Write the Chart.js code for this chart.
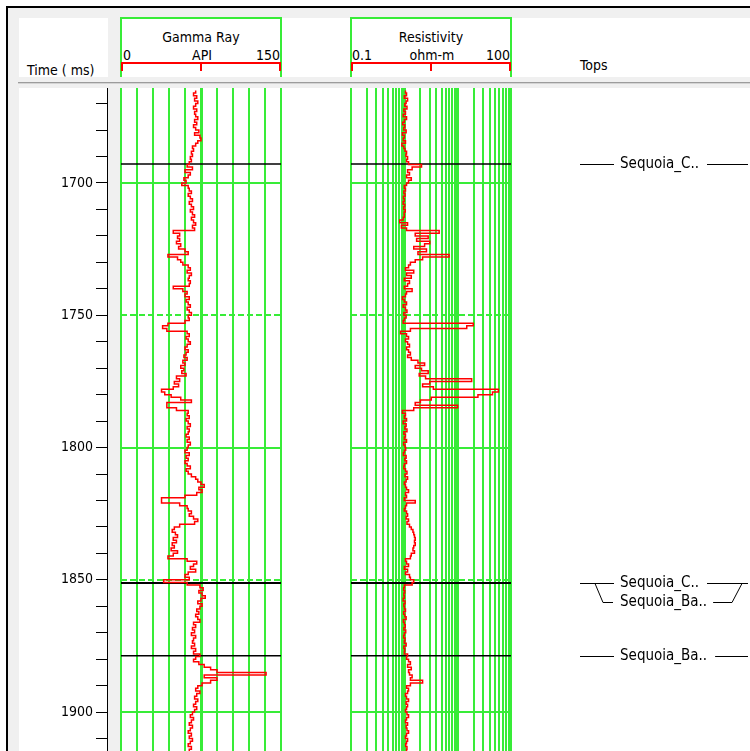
<!DOCTYPE html>
<html>
<head>
<meta charset="utf-8">
<title>Well log – Gamma Ray / Resistivity</title>
<script src="https://cdn.jsdelivr.net/npm/chart.js@4.4.1/dist/chart.umd.min.js"></script>
<style>
  html, body { margin: 0; padding: 0; background: #fff; overflow: hidden; }
  body { width: 750px; height: 751px; position: relative;
         font-family: "DejaVu Sans Condensed", "DejaVu Sans", sans-serif; }
  #frame { position: absolute; left: 6px; top: 6px; width: 800px; height: 800px;
           border-left: 2px solid #000; border-top: 2px solid #000; background: #f0f0f0; }
  .panel { position: absolute; background: #fff; }
  .txt { position: absolute; font-size: 14px; line-height: 14px; color: #000; white-space: nowrap; }
  .hbox { position: absolute; border: 2px solid #38ec38; border-bottom: none; box-sizing: border-box; }
  .rule { position: absolute; background: #ff0000; }
  canvas { position: absolute; }
</style>
</head>
<body>
<div id="frame"></div>

<!-- header and plot panels -->
<div class="panel" style="left:19px;top:18px;width:89px;height:59px"></div>
<div class="panel" style="left:120px;top:18px;width:640px;height:59px"></div>
<div class="panel" style="left:19px;top:88px;width:89px;height:670px"></div>
<div class="panel" style="left:120px;top:88px;width:640px;height:670px"></div>
<div style="position:absolute;left:18px;top:82px;width:740px;height:1px;background:#9c9c9c"></div>
<div style="position:absolute;left:18px;top:83px;width:740px;height:1px;background:#d4d4d4"></div>

<!-- time column header -->
<div class="txt" style="left:27px;top:63px">Time ( ms)</div>

<!-- gamma ray track header -->
<div class="hbox" style="left:120px;top:17px;width:162px;height:60px"></div>
<div class="txt" style="left:121px;top:30px;width:160px;text-align:center">Gamma Ray</div>
<div class="txt" style="left:123px;top:48px">0</div>
<div class="txt" style="left:121px;top:48px;width:162px;text-align:center">API</div>
<div class="txt" style="left:200px;top:48px;width:80px;text-align:right">150</div>
<div class="rule" style="left:121px;top:62px;width:160px;height:2px"></div>
<div class="rule" style="left:121px;top:62px;width:2px;height:9px"></div>
<div class="rule" style="left:200px;top:62px;width:2px;height:9px"></div>
<div class="rule" style="left:279px;top:62px;width:2px;height:9px"></div>

<!-- resistivity track header -->
<div class="hbox" style="left:350px;top:17px;width:162px;height:60px"></div>
<div class="txt" style="left:351px;top:30px;width:160px;text-align:center">Resistivity</div>
<div class="txt" style="left:352px;top:48px">0.1</div>
<div class="txt" style="left:351px;top:48px;width:162px;text-align:center">ohm-m</div>
<div class="txt" style="left:430px;top:48px;width:80px;text-align:right">100</div>
<div class="rule" style="left:351px;top:62px;width:160px;height:2px"></div>
<div class="rule" style="left:351px;top:62px;width:2px;height:9px"></div>
<div class="rule" style="left:430px;top:62px;width:2px;height:9px"></div>
<div class="rule" style="left:509px;top:62px;width:2px;height:9px"></div>

<!-- tops column header -->
<div class="txt" style="left:580px;top:58px">Tops</div>

<canvas id="timeAxis" width="91" height="663" style="left:19px;top:88px"></canvas>
<canvas id="grTrack" width="170" height="663" style="left:116px;top:88px"></canvas>
<canvas id="resTrack" width="170" height="663" style="left:346px;top:88px"></canvas>
<canvas id="topsTrack" width="235" height="663" style="left:515px;top:88px"></canvas>

<script>
// ---- log sampling (LAS-style start / step, ms) ----
const DEPTH_START = 1665;
const DEPTH_STEP = 1;

// visible time window (ms, increasing downward)
const TIME_MIN = 1664.1;
const TIME_MAX = 1914.7;

// time axis ticks and labels
const timeTickValues = [1670, 1680, 1690, 1700, 1710, 1720, 1730, 1740, 1750, 1760, 1770, 1780,
                        1790, 1800, 1810, 1820, 1830, 1840, 1850, 1860, 1870, 1880, 1890, 1900, 1910];
const timeLabelValues = [1700, 1750, 1800, 1850, 1900];

// horizontal grid inside the tracks
const trackGridTimes = [1700, 1750, 1800, 1850, 1900];
const dashedGridTimes = [1750, 1850];

// vertical grid values
const grGridValues = [0, 15, 30, 45, 60, 75, 90, 105, 120, 135, 150];
const resGridValues = [0.1, 0.2, 0.3, 0.4, 0.5, 0.6, 0.7, 0.8, 0.9,
                       1, 2, 3, 4, 5, 6, 7, 8, 9,
                       10, 20, 30, 40, 50, 60, 70, 80, 90, 100];

// Gamma Ray (API), one sample per ms from 1665
const gammaRay = [
  70, 68, 71, 69, 72, 70, 68, 71, 69, 70,   // 1665
  72, 69, 71, 68, 70, 73, 69, 74, 75, 72,   // 1675
  70, 67, 68, 66, 67, 65, 66, 64, 62, 67,   // 1685
  60, 65, 63, 59, 61, 57, 63, 64, 66, 63,   // 1695
  65, 67, 64, 66, 68, 65, 67, 69, 66, 68,   // 1705
  70, 67, 69, 49, 55, 53, 55, 52, 56, 54,   // 1715
  60, 63, 44, 53, 56, 58, 63, 65, 62, 66,   // 1725
  64, 63, 65, 64, 49, 58, 62, 60, 64, 61,   // 1735
  63, 65, 62, 64, 66, 63, 64, 60, 44, 39,   // 1745
  43, 62, 64, 61, 63, 65, 62, 60, 63, 61,   // 1755
  59, 62, 58, 60, 56, 59, 57, 61, 52, 55,   // 1765
  50, 54, 49, 38, 41, 47, 56, 66, 43, 43,   // 1775
  52, 63, 62, 64, 61, 63, 65, 62, 64, 63,   // 1785
  61, 64, 62, 65, 63, 62, 60, 64, 61, 63,   // 1795
  60, 62, 65, 61, 63, 66, 70, 72, 75, 78,   // 1805
  73, 76, 71, 60, 38, 38, 55, 62, 63, 66,   // 1815
  64, 68, 72, 69, 55, 50, 48, 51, 53, 49,   // 1825
  52, 48, 50, 47, 53, 49, 44, 62, 71, 68,   // 1835
  65, 70, 63, 60, 64, 40, 62, 74, 77, 73,   // 1845
  76, 79, 75, 72, 76, 74, 71, 73, 70, 72,   // 1855
  74, 68, 70, 67, 69, 66, 70, 68, 67, 69,   // 1865
  66, 70, 68, 74, 70, 68, 73, 78, 84, 90,   // 1875
  136, 78, 90, 84, 76, 72, 70, 74, 71, 69,  // 1885
  72, 70, 68, 71, 69, 67, 65, 68, 66, 64,   // 1895
  67, 65, 63, 66, 64, 67, 65, 63, 66, 64,   // 1905
  66                                        // 1915
];

// Resistivity (ohm-m), one sample per ms from 1665
const resistivity = [
  1.05, 1.1, 1.0, 1.15, 1.08, 1.02, 1.12, 0.98, 1.05, 0.95,   // 1665
  1.1, 1.0, 0.93, 1.02, 0.97, 1.08, 0.92, 1.0, 0.95, 1.05,    // 1675
  0.9, 0.98, 1.03, 1.1, 1.07, 1.15, 1.1, 1.2, 2.1, 1.4,       // 1685
  1.15, 1.25, 1.1, 1.35, 1.2, 1.1, 1.0, 1.05, 0.98, 1.03,     // 1695
  0.96, 1.0, 0.95, 1.02, 0.97, 1.04, 0.99, 1.0, 0.95, 0.82,   // 1705
  1.15, 0.88, 1.1, 4.5, 1.6, 2.8, 1.7, 3.0, 2.4, 1.5,         // 1715
  2.6, 1.8, 6.9, 2.2, 1.6, 1.3, 1.2, 1.05, 1.5, 1.1,          // 1725
  1.35, 1.0, 1.25, 1.15, 1.0, 1.4, 1.1, 1.05, 0.92, 1.0,      // 1735
  1.1, 0.95, 1.05, 1.12, 0.98, 1.08, 1.0, 0.95, 19.6, 14.8,   // 1745
  1.3, 0.85, 1.1, 1.2, 1.05, 1.15, 1.25, 1.1, 1.2, 1.3,       // 1755
  1.15, 1.35, 1.8, 2.4, 1.6, 2.1, 2.8, 1.9, 2.5, 18.3,        // 1765
  3.0, 2.2, 3.5, 58, 45, 24, 3.2, 2.0, 1.6, 10,               // 1775
  1.5, 0.92, 1.05, 1.0, 1.1, 0.95, 1.08, 1.02, 1.12, 0.98,    // 1785
  1.05, 1.0, 1.1, 0.97, 1.03, 1.06, 1.0, 0.96, 1.08, 1.02,    // 1795
  1.1, 1.0, 0.98, 1.05, 1.12, 1.03, 1.15, 1.08, 1.0, 1.05,    // 1805
  1.1, 1.2, 1.05, 1.1, 1.0, 1.6, 1.1, 1.05, 1.0, 1.1,         // 1815
  1.15, 1.08, 1.2, 1.12, 1.25, 1.35, 1.45, 1.5, 1.55, 1.6,    // 1825
  1.55, 1.6, 1.5, 1.45, 1.55, 1.35, 1.3, 1.05, 1.1, 1.2,      // 1835
  1.0, 1.15, 1.05, 1.25, 1.3, 1.5, 1.4, 1.0, 0.97, 1.02,      // 1845
  0.98, 1.0, 0.95, 1.03, 0.98, 1.0, 1.05, 0.97, 1.02, 1.08,   // 1855
  0.96, 1.0, 1.04, 0.98, 1.06, 1.0, 0.97, 1.03, 1.0, 1.08,    // 1865
  0.98, 1.02, 1.0, 1.15, 1.1, 1.2, 1.3, 1.15, 1.35, 1.2,      // 1875
  1.25, 1.4, 1.3, 2.2, 1.3, 1.1, 1.2, 1.15, 1.05, 1.1,        // 1885
  1.2, 1.08, 1.15, 1.1, 1.05, 1.12, 1.2, 1.1, 1.05, 1.15,     // 1895
  1.08, 1.12, 1.2, 1.1, 1.05, 1.15, 1.1, 1.06, 1.12, 1.1,     // 1905
  1.05                                                        // 1915
];

// formation tops
const topNames = ['Sequoia_C..', 'Sequoia_C..', 'Sequoia_Ba..', 'Sequoia_Ba..'];
const topTimes = [1692.8, 1851.1, 1851.3, 1878.7];

// ---- styling ----
const GRID_GREEN = '#38ec38';
const CURVE_RED = '#ff0000';
const FONT_FAMILY = '"DejaVu Sans Condensed", "DejaVu Sans", sans-serif';

const toPoints = values => values.map((v, i) => ({ x: v, y: DEPTH_START + i * DEPTH_STEP }));

const baseOptions = {
  responsive: false,
  animation: false,
  events: [],
  indexAxis: 'y',
  plugins: { legend: { display: false }, tooltip: { enabled: false } }
};

function timeScale(extra) {
  return Object.assign({ type: 'linear', reverse: true, min: TIME_MIN, max: TIME_MAX }, extra);
}

function topLineDatasets(xMin, xMax) {
  return topTimes.map(t => ({
    data: [{ x: xMin, y: t }, { x: xMax, y: t }],
    borderColor: '#000', borderWidth: 1.6, pointRadius: 0, order: 2
  }));
}

function trackScales(xType, xMin, xMax, gridValues, heavyValues) {
  return {
    x: {
      type: xType, min: xMin, max: xMax, position: 'top',
      afterBuildTicks: s => { s.ticks = gridValues.map(v => ({ value: v })); },
      afterFit: s => { s.height = 0; },
      ticks: { display: false },
      grid: {
        color: GRID_GREEN, drawTicks: false,
        lineWidth: ctx => (ctx.tick && heavyValues.includes(ctx.tick.value)) ? 3 : 2
      },
      border: { display: false }
    },
    y: timeScale({
      afterBuildTicks: s => { s.ticks = trackGridTimes.map(v => ({ value: v })); },
      afterFit: s => { s.width = 0; },
      ticks: { display: false },
      grid: { color: GRID_GREEN, lineWidth: 2, drawTicks: false },
      border: {
        display: false,
        dash: ctx => (ctx.tick && dashedGridTimes.includes(ctx.tick.value)) ? [6, 3] : []
      }
    })
  };
}

// ---- time axis ----
new Chart(document.getElementById('timeAxis'), {
  type: 'line',
  data: { datasets: [] },
  options: Object.assign({}, baseOptions, {
    layout: { padding: 0 },
    scales: {
      x: { type: 'linear', display: false, min: 0, max: 1 },
      y: timeScale({
        position: 'left',
        afterBuildTicks: s => { s.ticks = timeTickValues.map(v => ({ value: v })); },
        afterFit: s => { s.width = 88; s.paddingTop = 0; s.paddingBottom = 0; },
        ticks: {
          autoSkip: false, padding: 3, color: '#000',
          font: { family: FONT_FAMILY, size: 14 },
          callback: v => timeLabelValues.includes(v) ? String(v) : ''
        },
        grid: { drawOnChartArea: false, drawTicks: true, tickLength: 11, color: '#000', lineWidth: 1 },
        border: { display: true, color: '#000', width: 1 }
      })
    }
  })
});

// ---- gamma ray track ----
new Chart(document.getElementById('grTrack'), {
  type: 'line',
  data: {
    datasets: [
      { data: toPoints(gammaRay), borderColor: CURVE_RED, borderWidth: 1.5,
        pointRadius: 0, stepped: 'after', order: 1 },
      ...topLineDatasets(0, 150)
    ]
  },
  options: Object.assign({}, baseOptions, {
    layout: { padding: { left: 5, right: 5, top: 0, bottom: 0 } },
    scales: trackScales('linear', 0, 150, grGridValues, [75])
  })
});

// ---- resistivity track ----
new Chart(document.getElementById('resTrack'), {
  type: 'line',
  data: {
    datasets: [
      { data: toPoints(resistivity), borderColor: CURVE_RED, borderWidth: 1.5,
        pointRadius: 0, stepped: 'after', order: 1 },
      ...topLineDatasets(0.1, 100)
    ]
  },
  options: Object.assign({}, baseOptions, {
    layout: { padding: { left: 5, right: 5, top: 0, bottom: 0 } },
    scales: trackScales('logarithmic', 0.1, 100, resGridValues, [1, 10])
  })
});

// ---- tops track: labels with leader lines, stacked when tops crowd together ----
const topsLabelPlugin = {
  id: 'topsLabels',
  afterDraw(chart) {
    const { ctx } = chart;
    const yScale = chart.scales.y;
    ctx.save();
    ctx.font = '15px ' + FONT_FAMILY;
    ctx.fillStyle = '#000';
    ctx.strokeStyle = '#000';
    ctx.lineWidth = 1;
    ctx.textBaseline = 'middle';
    const lineLeft = 65, lineBend = 80, lineInner = 99, textLeft = 105, lineRight = 233;
    let prevLabelY = -Infinity;
    topTimes.forEach((t, i) => {
      const py = Math.round(yScale.getPixelForValue(t)) + 0.5;
      const ly = Math.max(py, prevLabelY + 19);
      prevLabelY = ly;
      const textW = ctx.measureText(topNames[i]).width;
      const textEnd = textLeft + textW + 6;
      ctx.beginPath();
      if (ly === py) {
        ctx.moveTo(lineLeft, py); ctx.lineTo(lineInner, py);
        ctx.moveTo(textEnd + 2, py); ctx.lineTo(lineRight, py);
      } else {
        ctx.moveTo(lineBend, py); ctx.lineTo(lineBend + 8, ly); ctx.lineTo(lineInner - 1, ly);
        ctx.moveTo(textEnd, ly); ctx.lineTo(lineRight - 16, ly); ctx.lineTo(lineRight - 6, py);
      }
      ctx.stroke();
      ctx.fillText(topNames[i], textLeft, ly);
    });
    ctx.restore();
  }
};

new Chart(document.getElementById('topsTrack'), {
  type: 'line',
  data: { datasets: [] },
  options: Object.assign({}, baseOptions, {
    layout: { padding: 0 },
    scales: {
      x: { type: 'linear', display: false, min: 0, max: 1 },
      y: timeScale({ display: false })
    }
  }),
  plugins: [topsLabelPlugin]
});
</script>
</body>
</html>
